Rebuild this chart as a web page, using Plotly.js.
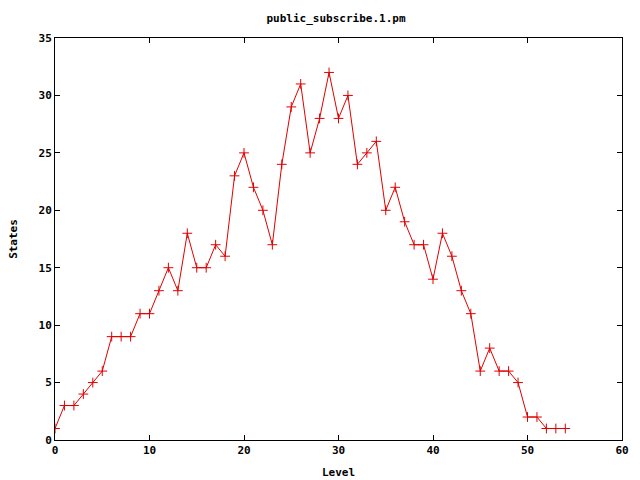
<!DOCTYPE html>
<html><head><meta charset="utf-8">
<script src="https://cdn.plot.ly/plotly-3.0.1.min.js"></script>
<style>html,body{margin:0;padding:0;background:#fff}#c{width:640px;height:480px}</style>
</head><body><div id="c"></div>
<script>
const levels = [];
for (let i = 0; i <= 54; i++) levels.push(i);
const states = [1,3,3,4,5,6,9,9,9,11,11,13,15,13,18,15,15,17,16,23,25,22,20,17,24,29,31,25,28,32,28,30,24,25,26,20,22,19,17,17,14,18,16,13,11,6,8,6,6,5,2,2,1,1,1];
const xTicks = [0,10,20,30,40,50,60];
const yTicks = [0,5,10,15,20,25,30,35];

const font = {family: "DejaVu Sans Mono, monospace", size: 11, color: "#000", weight: "bold"};

Plotly.newPlot("c", [{
  x: levels, y: states, type: "scatter", mode: "lines+markers",
  line: {color: "#e00000", width: 1},
  marker: {symbol: "cross-thin", size: 7, color: "#e00000", line: {color: "#e00000", width: 1}},
  showlegend: false
}], {
  width: 640, height: 480,
  margin: {l: 55, r: 18, t: 38, b: 40},
  paper_bgcolor: "#fff", plot_bgcolor: "#fff",
  font: font,
  title: {text: "public_subscribe.1.pm", font: font, x: 0.525, xanchor: "center", y: 0.962, yanchor: "middle"},
  xaxis: {
    range: [0, 60], tickvals: xTicks, ticktext: xTicks.map(String),
    ticks: "inside", ticklen: 5, tickcolor: "#000", showgrid: false, zeroline: false,
    showline: true, linecolor: "#000", linewidth: 1, mirror: "ticks",
    tickfont: font, title: {text: "Level", font: font, standoff: 12}
  },
  yaxis: {
    range: [0, 35], tickvals: yTicks, ticktext: yTicks.map(String),
    ticks: "inside", ticklen: 5, tickcolor: "#000", showgrid: false, zeroline: false,
    showline: true, linecolor: "#000", linewidth: 1, mirror: "ticks",
    tickfont: font, title: {text: "States", font: font, standoff: 18}
  }
}, {staticPlot: true});
</script></body></html>
